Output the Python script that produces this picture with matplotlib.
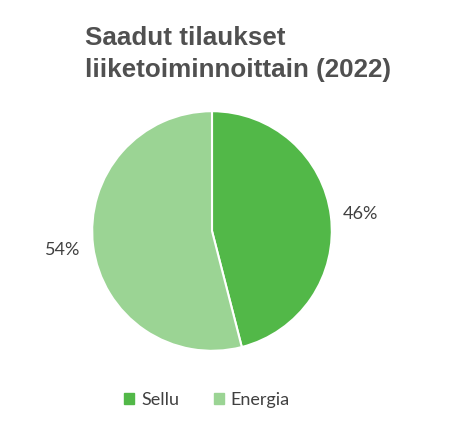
import matplotlib
matplotlib.use('Agg')
import matplotlib.pyplot as plt
from matplotlib.patches import Patch

categories = ['Sellu', 'Energia']
shares = [46, 54]
colors = ['#52B848', '#9BD494']

fig = plt.figure(figsize=(4.59, 4.40), dpi=100)
ax = fig.add_axes([0, 0, 1, 1])
ax.set_xlim(0, 459)
ax.set_ylim(440, 0)
ax.axis('off')

# pie in its own axes
pax = fig.add_axes([(212 - 121) / 459, 1 - (231 + 121) / 440, 242 / 459, 242 / 440])
wedges, _ = pax.pie(shares, colors=colors, startangle=90, counterclock=False,
                    wedgeprops=dict(edgecolor='white', linewidth=1.5))
pax.set_xlim(-1.01, 1.01)
pax.set_ylim(-1.01, 1.01)
pax.set_aspect('equal')

label_pos = [(360, 214), (63, 250)]
for (x, y), v in zip(label_pos, shares):
    ax.text(x, y, f'{v}%', ha='center', va='center', fontsize=13,
            color='#404040', family='Lato')

ax.text(85, 45, 'Saadut tilaukset', fontsize=18.7, fontweight='bold',
        color='#505050', family='Liberation Sans', va='baseline')
ax.text(85, 77, 'liiketoiminnoittain (2022)', fontsize=18.7, fontweight='bold',
        color='#505050', family='Liberation Sans', va='baseline')

handles = [Patch(color=c, label=l) for c, l in zip(colors, categories)]
leg = fig.legend(handles=handles, loc='center', bbox_to_anchor=(207 / 459, 1 - 400 / 440),
                 ncol=2, frameon=False, handlelength=0.55, handleheight=0.55,
                 columnspacing=1.9, handletextpad=0.4,
                 prop={'family': 'Lato', 'size': 13})
for t in leg.get_texts():
    t.set_color('#404040')

fig.savefig('out.png', dpi=100, facecolor='white')
